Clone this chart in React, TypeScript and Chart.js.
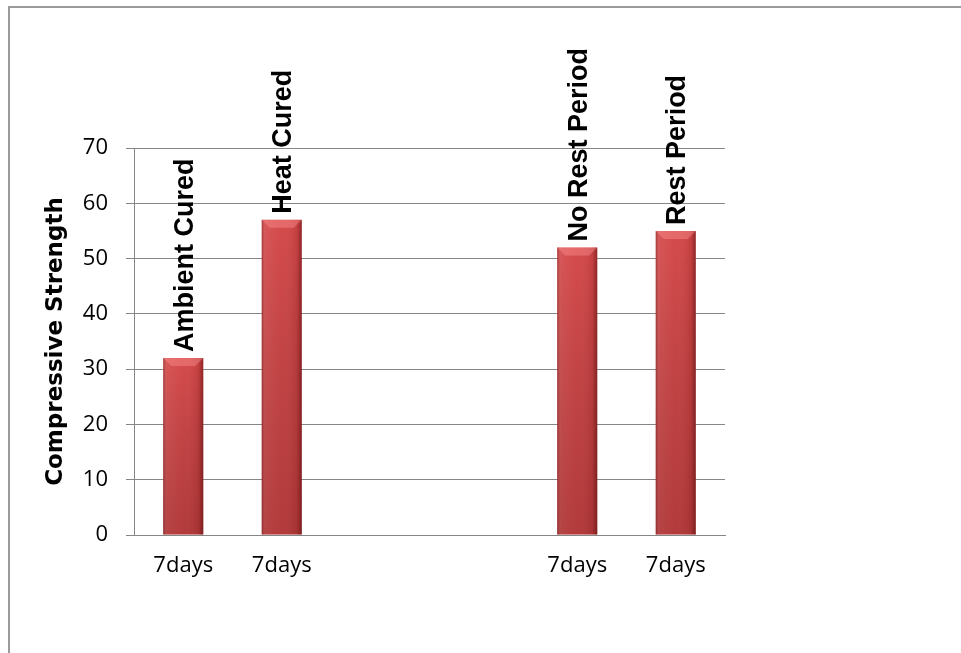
import React, { useEffect, useRef } from "react";
import { Chart, registerables } from "chart.js";

Chart.register(...registerables);

const categories = ["7days", "7days", "", "", "7days", "7days"];
const strengthValues: (number | null)[] = [32, 57, null, null, 52, 55];
const barLabels = ["Ambient Cured", "Heat Cured", "", "", "No Rest Period", "Rest Period"];
const yTicks = [0, 10, 20, 30, 40, 50, 60, 70];
const yTitle = "Compressive Strength";

export default function App() {
  const ref = useRef<HTMLCanvasElement>(null);

  useEffect(() => {
    const canvas = ref.current!;
    const barDecor = {
      id: "barDecor",
      afterDatasetsDraw(chart: any) {
        const ctx = chart.ctx as CanvasRenderingContext2D;
        const meta = chart.getDatasetMeta(0);
        meta.data.forEach((el: any, i: number) => {
          if (strengthValues[i] == null) return;
          const { x, y, base, width } = el.getProps(["x", "y", "base", "width"], true);
          const l = x - width / 2;
          const r = x + width / 2;
          const h = base - y;
          ctx.save();
          const g = ctx.createLinearGradient(l, 0, r, 0);
          g.addColorStop(0, "rgba(90,10,10,0.4)");
          g.addColorStop(0.1, "rgba(255,255,255,0.08)");
          g.addColorStop(0.5, "rgba(255,255,255,0.02)");
          g.addColorStop(0.88, "rgba(60,0,0,0.1)");
          g.addColorStop(1, "rgba(60,0,0,0.45)");
          ctx.fillStyle = g;
          ctx.fillRect(l, y, width, h);
          const gv = ctx.createLinearGradient(0, y, 0, base);
          gv.addColorStop(0, "rgba(0,0,0,0)");
          gv.addColorStop(1, "rgba(60,0,0,0.22)");
          ctx.fillStyle = gv;
          ctx.fillRect(l, y, width, h);
          const b = 8;
          ctx.beginPath();
          ctx.moveTo(l, y);
          ctx.lineTo(r, y);
          ctx.lineTo(r - b, y + b);
          ctx.lineTo(l + b, y + b);
          ctx.closePath();
          ctx.fillStyle = "rgba(255,150,150,0.4)";
          ctx.fill();
          ctx.restore();

          const label = barLabels[i];
          if (label) {
            ctx.save();
            ctx.translate(x + 2, y - 6);
            ctx.rotate(-Math.PI / 2);
            ctx.font = 'bold 27px "Liberation Sans", Arial, sans-serif';
            ctx.fillStyle = "#000";
            ctx.textAlign = "left";
            ctx.textBaseline = "middle";
            ctx.fillText(label, 0, 0);
            ctx.restore();
          }
        });
      },
    };

    const chart = new Chart(canvas, {
      type: "bar",
      data: {
        labels: categories,
        datasets: [
          {
            data: strengthValues,
            backgroundColor: "#D44748",
            borderWidth: 0,
            barPercentage: 0.406,
            categoryPercentage: 1,
          },
        ],
      },
      options: {
        responsive: false,
        animation: false,
        devicePixelRatio: 1,
        layout: { padding: { left: 30, right: 236, top: 148, bottom: 0 } },
        plugins: { legend: { display: false }, tooltip: { enabled: false } },
        scales: {
          x: {
            grid: { display: false, drawTicks: false },
            border: { display: true, color: "#868686" },
            ticks: {
              color: "#000",
              font: { family: '"Open Sans"', size: 22 },
              padding: 18,
              maxRotation: 0,
              autoSkip: false,
            },
            afterFit(s: any) {
              s.height = 118;
            },
          },
          y: {
            min: 0,
            max: 70,
            grid: { color: "#868686", tickLength: 8, drawTicks: true },
            border: { display: true, color: "#868686" },
            afterBuildTicks(s: any) {
              s.ticks = yTicks.map((v) => ({ value: v }));
            },
            ticks: {
              padding: 18,
              color: "#000",
              font: { family: '"Open Sans"', size: 22 },
            },
            title: {
              display: true,
              text: yTitle,
              color: "#000",
              font: { family: '"DejaVu Sans"', size: 23, weight: "bold" },
              padding: { top: 12, bottom: 0 },
            },
            afterFit(s: any) {
              s.width = 104;
            },
          },
        },
      },
      plugins: [barDecor],
    } as any);
    return () => chart.destroy();
  }, []);

  return (
    <div
      style={{
        position: "fixed",
        left: 0,
        top: 0,
        width: 961,
        height: 653,
        overflow: "hidden",
        background: "#fff",
      }}
    >
      <div
        style={{
          position: "absolute",
          left: 8,
          top: 6,
          width: 1100,
          height: 1100,
          borderLeft: "2px solid #9a9a9a",
          borderTop: "2px solid #9a9a9a",
        }}
      />
      <canvas
        ref={ref}
        width={961}
        height={653}
        style={{ position: "absolute", left: 0, top: 0, width: 961, height: 653 }}
      />
    </div>
  );
}
